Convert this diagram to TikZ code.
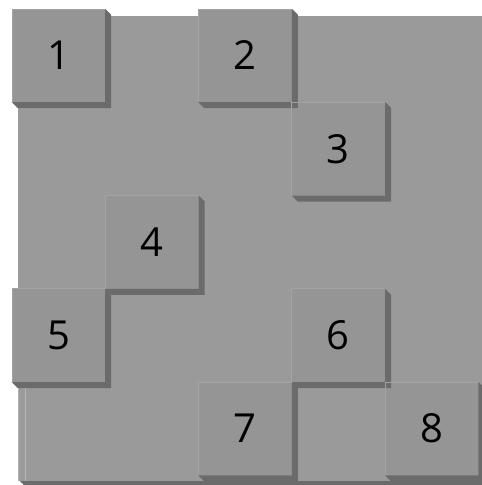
\documentclass[tikz,border=0pt]{standalone}
\usepackage{fontspec}
\setmainfont{Open Sans}
\definecolor{boardgray}{gray}{0.605}
\definecolor{tilegray}{gray}{0.585}
\definecolor{edgegray}{gray}{0.42}
\definecolor{hilite}{gray}{0.64}
\tikzset{
  tile/.style={rectangle, fill=tilegray, draw=none, minimum width=93pt, minimum height=93pt,
    inner sep=0pt, font=\fontsize{40}{40}\selectfont},
  tileshadow/.style={fill=edgegray, draw=none}
}
\newcommand{\tileedge}[1]{%
  \fill[tileshadow] (#1.north east) -- ++(6,6) -- ([shift={(6,6)}]#1.south east)
    -- ([shift={(6,6)}]#1.south west) -- (#1.south west) -- (#1.south east) -- cycle;
  \draw[hilite, line width=0.5pt] (#1.south west) -- (#1.north west) -- (#1.north east);
}
\begin{document}
\begin{tikzpicture}[x=1pt, y=-1pt]
      \useasboundingbox (0,0) rectangle (482,485);

      % Board
      \fill[boardgray] (18,16) rectangle (482,481);
      \fill[edgegray] (20,481) -- (482,481) -- (482,485) -- (24,485) -- cycle;
      \draw[hilite!80!white, line width=0.6pt] (18.5,382) -- (18.5,481);
      \draw[hilite!80!white, line width=0.6pt] (25.5,382) -- (25.5,481);

      % Nodes
      \node (t1) at (58.5,55.5) [tile] {1};
      \node (t2) at (245.1,55.5) [tile] {2};
      \node (t3) at (338.4,148.8) [tile] {3};
      \node (t4) at (151.8,242.1) [tile] {4};
      \node (t5) at (58.5,335.4) [tile] {5};
      \node (t6) at (338.4,335.4) [tile] {6};
      \node (t7) at (245.1,428.7) [tile] {7};
      \node (t8) at (431.7,428.7) [tile] {8};

      % Edges
      \foreach \t in {t1,t2,t3,t4,t5,t6,t7,t8}
        {\tileedge{\t}}
    \end{tikzpicture}
\end{document}
